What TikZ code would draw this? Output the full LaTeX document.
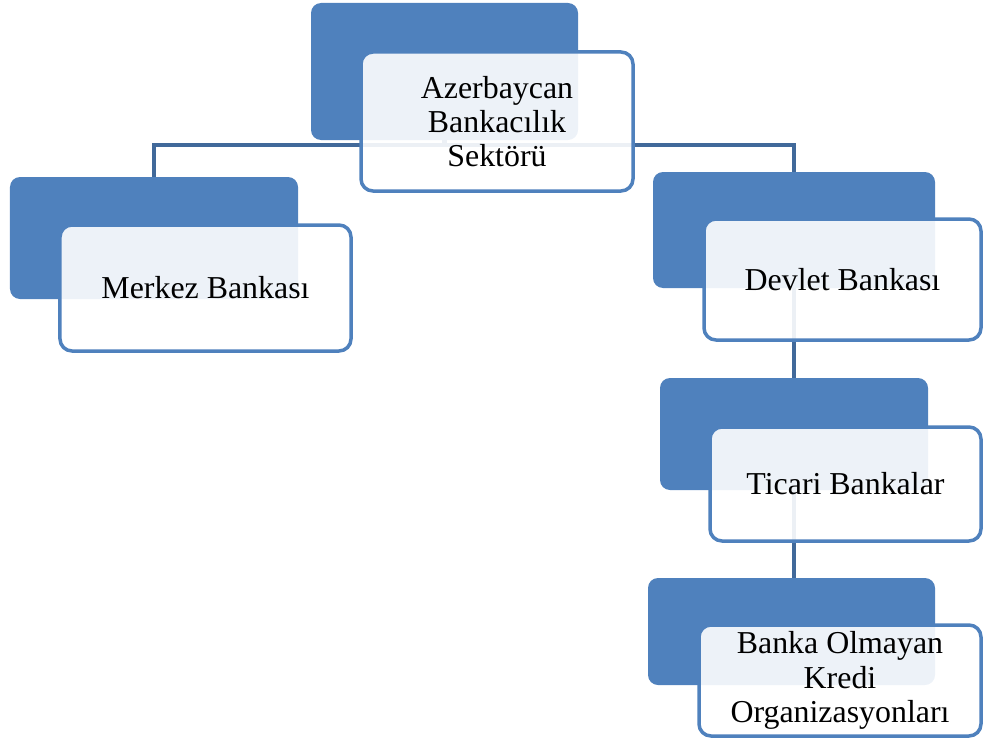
\documentclass[tikz,border=0pt]{standalone}
\usepackage{fontspec}
\setmainfont{Liberation Serif}
\definecolor{boxblue}{HTML}{4F81BD}
\definecolor{connblue}{HTML}{41699A}
\begin{document}
\begin{tikzpicture}[x=1bp,y=-1bp,
  backbox/.style={fill=boxblue, draw=none, rounded corners=10bp, inner sep=0pt},
  frontbox/.style={fill=white, fill opacity=0.9, text opacity=1, draw=boxblue, draw opacity=1,
    line width=3.5bp, rounded corners=12bp, inner sep=0pt, align=center,
    font=\fontsize{32}{34.5}\selectfont},
  conn/.style={draw=connblue, line width=4.5bp}]
\useasboundingbox (0,0) rectangle (985,745);
% back boxes
\node[backbox, minimum width=267bp, minimum height=137bp] (topB) at (444.5,71.5) {};
\node[backbox, minimum width=288bp, minimum height=122bp] (merB) at (154,238) {};
\node[backbox, minimum width=282bp, minimum height=116bp] (devB) at (794,230) {};
\node[backbox, minimum width=268bp, minimum height=112bp] (ticB) at (794,434) {};
\node[backbox, minimum width=287bp, minimum height=107bp] (banB) at (791.5,631.5) {};
% connectors
\coordinate (bar) at (0,145);
\draw[conn] (topB.south) -- (bar -| topB.south);
\draw[conn] (merB.north) |- (bar -| topB.south) -| (devB.north);
\draw[conn] (devB.south) -- (ticB.north);
\draw[conn] (ticB.south) -- (ticB.south |- banB.north);
% front boxes
\node[frontbox, minimum width=272bp, minimum height=139bp] (topF) at (497,121.5) {Azerbaycan\\Bankacılık\\Sektörü};
\node[frontbox, minimum width=291bp, minimum height=126bp] (merF) at (205.5,288) {Merkez Bankası};
\node[frontbox, minimum width=277bp, minimum height=121bp] (devF) at (842.5,279.5) {Devlet Bankası};
\node[frontbox, minimum width=271bp, minimum height=114bp] (ticF) at (845.5,484) {Ticari Bankalar};
\node[frontbox, minimum width=282bp, minimum height=111bp] (banF) at (840,680.5) {Banka Olmayan\\Kredi\\Organizasyonları};
\end{tikzpicture}
\end{document}
